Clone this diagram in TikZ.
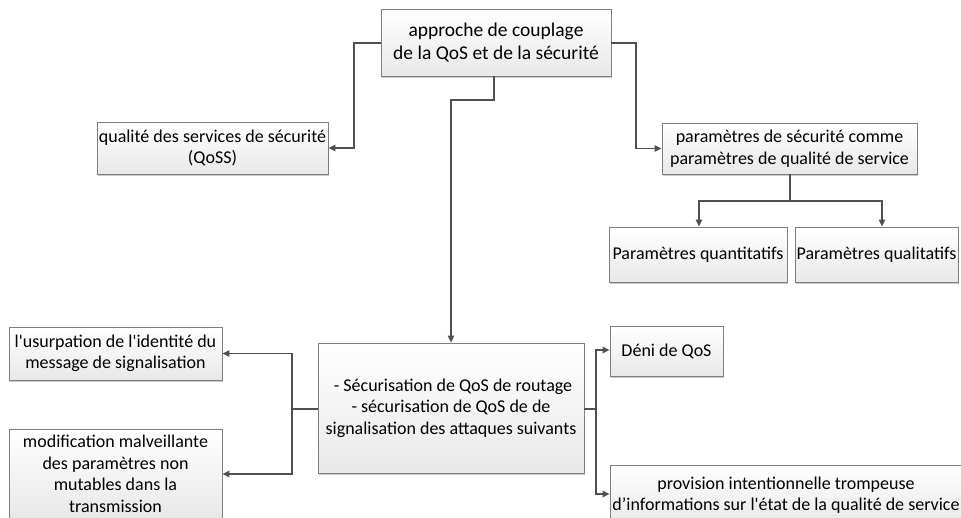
\documentclass[tikz,border=0pt]{standalone}
\usepackage{fontspec}
\setmainfont{Carlito}
\usetikzlibrary{arrows.meta,shadows}
\definecolor{linec}{HTML}{505050}
\definecolor{boxc}{HTML}{7F7F7F}
\newcommand{\qs}{\textquotesingle}
\begin{document}
\begin{tikzpicture}[x=1pt,y=-1pt,
  box/.style={draw=boxc, line width=0.9pt, top color=white, bottom color=black!9,
    drop shadow={shadow xshift=0.6pt, shadow yshift=-1.6pt, fill=black!35, opacity=0.6},
    inner sep=0pt, align=center, font=\fontsize{18}{21.5}\selectfont},
  conn/.style={draw=linec, line width=1.1pt},
  arr/.style={conn, -{Triangle[length=7pt,width=6.5pt]}}]
\useasboundingbox (0,0) rectangle (961,517);
\node[box, minimum width=230pt, minimum height=67pt, font=\fontsize{19.5}{23}\selectfont] (top) at (496,42.5) {approche de couplage\\ de la QoS et de la sécurité};
\node[box, minimum width=231pt, minimum height=52pt] (qoss) at (212.5,148) {qualité des services de sécurité\\(QoSS)};
\node[box, minimum width=255pt, minimum height=51pt] (par) at (789.5,148.5) {paramètres de sécurité comme\\paramètres de qualité de service};
\node[box, minimum width=178pt, minimum height=55pt] (quant) at (698,254.5) {Paramètres quantitatifs};
\node[box, minimum width=163pt, minimum height=55pt] (qual) at (876.5,254.5) {Paramètres qualitatifs};
\node[box, minimum width=213pt, minimum height=53pt] (usu) at (115.5,353.5) {l\qs usurpation de l\qs identité du\\message de signalisation};
\node[box, minimum width=213pt, minimum height=90pt] (mod) at (115.5,474) {modification malveillante\\des paramètres non\\mutables dans la\\transmission};
\node[box, minimum width=266pt, minimum height=130pt] (main) at (451,408) {\ - Sécurisation de QoS de routage\\ - sécurisation de QoS de de\\signalisation des attaques suivants};
\node[box, minimum width=113pt, minimum height=50pt] (deni) at (666.5,351) {Déni de QoS};
\node[box, minimum width=352pt, minimum height=60pt] (prov) at (786,495) {provision intentionnelle trompeuse\\d’informations sur l\qs état de la qualité de service};
% connectors
\coordinate (tl) at (354,43);
\coordinate (tr) at (636,43);
\draw[arr] (top.west |- tl) -- (tl) |- (qoss.east);
\draw[arr] (top.east |- tr) -- (tr) |- (par.west);
\coordinate (pj) at (790,201);
\coordinate (pl) at (699,201);
\coordinate (pr) at (882,201);
\draw[conn] (par.south -| pj) -- (pj);
\draw[arr] (pj) -- (pl) -- (pl |- quant.north);
\draw[arr] (pj) -- (pr) -- (pr |- qual.north);
\coordinate (tb) at (494,100);
\draw[arr] (top.south -| tb) -- (tb) -| (main.north);
\coordinate (ml) at (292,409);
\draw[conn] (main.west |- ml) -- (ml);
\draw[arr] (ml) |- (usu.east);
\draw[arr] (ml) |- (mod.east |- 0,474);
\coordinate (mr) at (596,409);
\draw[conn] (main.east |- mr) -- (mr);
\draw[arr] (mr) |- (deni.west |- 0,350);
\draw[arr] (mr) |- (prov.west |- 0,494);
\end{tikzpicture}
\end{document}
